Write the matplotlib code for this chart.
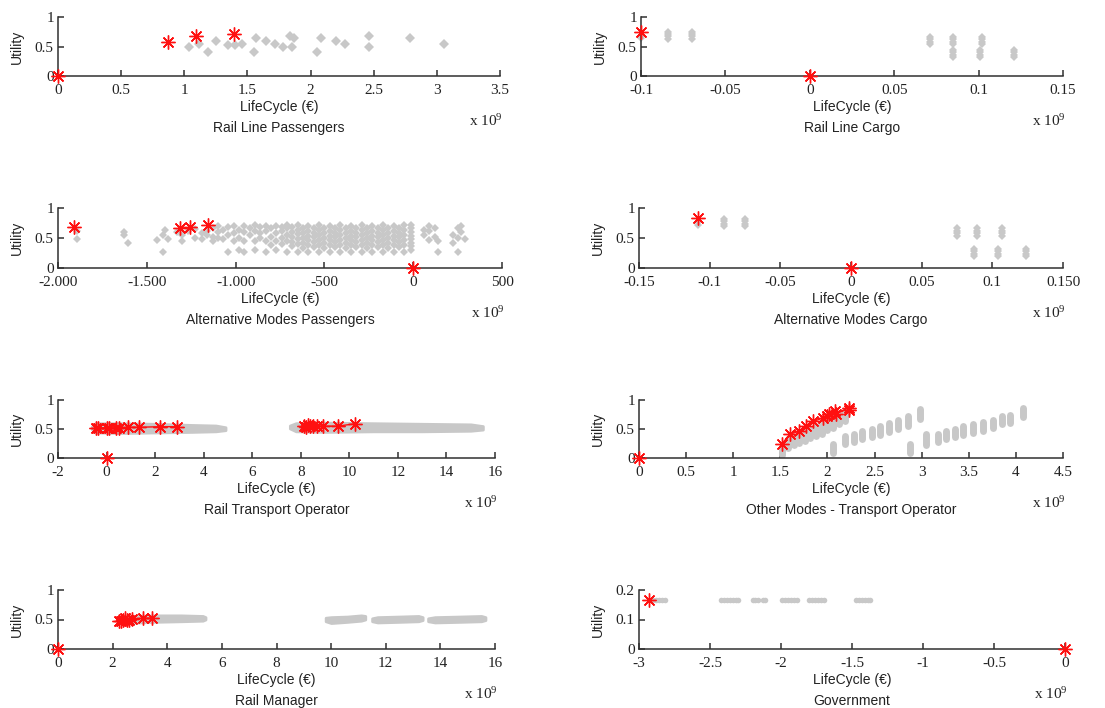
import matplotlib.pyplot as plt

GRAY = '#c8c8c8'
RED = '#ff1010'
AXCOL = '#303030'
SERIF = 'Liberation Serif'
SANS = 'Liberation Sans'

# ---- Rail Line Passengers (x in 1e9 EUR) ----
rlp_gray_x = [1.04, 1.12, 1.19, 1.25, 1.35, 1.40, 1.46, 1.55, 1.57, 1.65, 1.72, 1.78,
              1.84, 1.85, 1.87, 2.05, 2.08, 2.20, 2.27, 2.46, 2.46, 2.79, 3.06]
rlp_gray_y = [0.50, 0.54, 0.41, 0.60, 0.52, 0.52, 0.55, 0.41, 0.64, 0.60, 0.55, 0.50,
              0.68, 0.50, 0.64, 0.41, 0.64, 0.60, 0.55, 0.68, 0.50, 0.64, 0.55]
rlp_front_x = [0, 0.87, 1.09, 1.39]
rlp_front_y = [0, 0.57, 0.67, 0.71]

# ---- Rail Line Cargo: stacked columns x -> utilities ----
rlc_cols = {-0.100: [0.64, 0.68],
            -0.084: [0.63, 0.67, 0.71, 0.75],
            -0.070: [0.63, 0.67, 0.71, 0.75],
            0.071: [0.54, 0.58, 0.62, 0.66],
            0.085: [0.32, 0.36, 0.40, 0.44, 0.54, 0.58, 0.62, 0.66],
            0.101: [0.32, 0.36, 0.40, 0.44],
            0.102: [0.54, 0.58, 0.62, 0.66],
            0.121: [0.32, 0.36, 0.40, 0.44]}
rlc_front_x = [-0.1, 0]
rlc_front_y = [0.75, 0]

# ---- Alternative Modes Passengers ----
amp_cols = {-1895: [0.48, 0.62], -1630: [0.55, 0.60], -1605: [0.41],
            -1440: [0.46], -1410: [0.27, 0.55], -1395: [0.64], -1380: [0.48],
            -1330: [0.60], -1300: [0.45, 0.55], -1270: [0.62], -1230: [0.50, 0.65],
            -1190: [0.48, 0.58], -1160: [0.55, 0.62], -1130: [0.45, 0.52, 0.66],
            -1100: [0.50, 0.60, 0.70], -1070: [0.48, 0.64], -1040: [0.27, 0.55, 0.68],
            -1010: [0.45, 0.58, 0.70], -980: [0.30, 0.50, 0.64], -950: [0.27, 0.45, 0.60, 0.70],
            -920: [0.55, 0.66], -890: [0.30, 0.45, 0.62, 0.72], -860: [0.50, 0.58, 0.68],
            -830: [0.27, 0.45, 0.62, 0.70], -800: [0.38, 0.52, 0.66],
            -770: [0.30, 0.45, 0.58, 0.70], -740: [0.40, 0.50, 0.62, 0.68],
            -710: [0.27, 0.45, 0.55, 0.66, 0.72],
            -680: [0.36, 0.44, 0.52, 0.60, 0.68], -650: [0.27, 0.40, 0.48, 0.56, 0.64, 0.71],
            -620: [0.34, 0.42, 0.50, 0.58, 0.66], -590: [0.27, 0.38, 0.46, 0.54, 0.62, 0.70],
            -560: [0.35, 0.43, 0.51, 0.59, 0.67], -530: [0.27, 0.39, 0.47, 0.55, 0.63, 0.71],
            -500: [0.34, 0.42, 0.50, 0.58, 0.66], -470: [0.27, 0.38, 0.46, 0.54, 0.62, 0.70],
            -440: [0.35, 0.43, 0.51, 0.59, 0.67], -410: [0.27, 0.39, 0.47, 0.55, 0.63, 0.71],
            -380: [0.34, 0.42, 0.50, 0.58, 0.66], -350: [0.27, 0.38, 0.46, 0.54, 0.62, 0.70],
            -320: [0.35, 0.43, 0.51, 0.59, 0.67], -290: [0.27, 0.39, 0.47, 0.55, 0.63, 0.71],
            -260: [0.34, 0.42, 0.50, 0.58, 0.66], -230: [0.27, 0.38, 0.46, 0.54, 0.62, 0.70],
            -200: [0.35, 0.43, 0.51, 0.59, 0.67], -170: [0.27, 0.39, 0.47, 0.55, 0.63, 0.71],
            -140: [0.34, 0.42, 0.50, 0.58, 0.66], -110: [0.27, 0.38, 0.46, 0.54, 0.62, 0.70],
            -80: [0.35, 0.43, 0.51, 0.59, 0.67], -50: [0.27, 0.39, 0.47, 0.55, 0.63, 0.71],
            -15: [0.30, 0.36, 0.42, 0.48, 0.54, 0.60, 0.66, 0.72],
            60: [0.55, 0.64], 90: [0.47, 0.62, 0.70], 120: [0.52, 0.66], 140: [0.27, 0.45],
            225: [0.42, 0.55], 250: [0.27, 0.50, 0.66], 270: [0.60, 0.70], 290: [0.48]}
amp_front_x = [-1912, -1313, -1257, -1157, 0]
amp_front_y = [0.68, 0.67, 0.69, 0.71, 0]

# ---- Alternative Modes Cargo ----
amc_cols = {-0.108: [0.72, 0.76],
            -0.090: [0.70, 0.74, 0.78, 0.82],
            -0.075: [0.70, 0.74, 0.78, 0.82],
            0.075: [0.54, 0.58, 0.62, 0.66],
            0.087: [0.20, 0.24, 0.28, 0.32],
            0.089: [0.54, 0.58, 0.62, 0.66],
            0.104: [0.20, 0.24, 0.28, 0.32],
            0.107: [0.54, 0.58, 0.62, 0.66],
            0.124: [0.20, 0.24, 0.28, 0.32]}
amc_front_x = [-0.108, 0]
amc_front_y = [0.83, 0]

# ---- Rail Transport Operator: band outlines (x, low, high) ----
rto_band1_x = [-0.6, -0.45, 0.5, 2.0, 3.5, 4.5, 4.9]
rto_band1_lo = [0.49, 0.44, 0.43, 0.44, 0.45, 0.46, 0.48]
rto_band1_hi = [0.55, 0.60, 0.60, 0.59, 0.57, 0.56, 0.53]
rto_band2_x = [7.55, 7.8, 9.0, 11.0, 13.0, 15.0, 15.5]
rto_band2_lo = [0.51, 0.46, 0.45, 0.46, 0.46, 0.47, 0.49]
rto_band2_hi = [0.56, 0.60, 0.61, 0.60, 0.59, 0.58, 0.55]
rto_front1_x = [-0.45, -0.35, 0.0, 0.1, 0.4, 0.5, 0.9, 1.35, 2.2, 2.9]
rto_front1_y = [0.52, 0.52, 0.52, 0.52, 0.52, 0.52, 0.53, 0.53, 0.54, 0.54]
rto_front2_x = [8.12, 8.2, 8.3, 8.4, 8.5, 8.65, 8.92, 9.54, 10.22]
rto_front2_y = [0.55, 0.53, 0.57, 0.55, 0.56, 0.55, 0.55, 0.55, 0.59]

# ---- Other Modes - Transport Operator: point clusters (x, low, high) ----
omt_x = [1.52, 1.58, 1.64, 1.70, 1.76, 1.82, 1.88, 1.94, 2.00, 2.06, 2.12, 2.19,
         2.06, 2.88,
         2.19, 2.28, 2.37, 2.47, 2.56, 2.65, 2.75, 2.86, 2.98,
         3.05, 3.17, 3.26, 3.35, 3.44, 3.55, 3.65, 3.76, 3.85, 3.94, 4.08]
omt_lo = [0.05, 0.18, 0.22, 0.26, 0.30, 0.34, 0.38, 0.42, 0.48, 0.52, 0.58, 0.64,
          0.08, 0.08,
          0.24, 0.28, 0.32, 0.36, 0.40, 0.45, 0.50, 0.55, 0.68,
          0.22, 0.28, 0.32, 0.36, 0.40, 0.43, 0.46, 0.52, 0.58, 0.60, 0.70]
omt_hi = [0.20, 0.32, 0.36, 0.40, 0.45, 0.50, 0.55, 0.60, 0.66, 0.70, 0.75, 0.80,
          0.24, 0.24,
          0.38, 0.42, 0.46, 0.50, 0.55, 0.60, 0.65, 0.72, 0.85,
          0.42, 0.42, 0.46, 0.50, 0.55, 0.58, 0.62, 0.66, 0.72, 0.74, 0.86]
omt_front_x = [1.52, 1.60, 1.70, 1.77, 1.85, 1.95, 1.99, 2.02, 2.08, 2.09, 2.23, 2.23]
omt_front_y = [0.25, 0.41, 0.46, 0.56, 0.63, 0.69, 0.73, 0.76, 0.81, 0.76, 0.87, 0.82]

# ---- Rail Manager: band outlines ----
rm_bands = [
    ([2.2, 2.5, 3.5, 4.5, 5.3, 5.4], [0.47, 0.44, 0.46, 0.47, 0.48, 0.50], [0.53, 0.56, 0.57, 0.57, 0.56, 0.54]),
    ([9.8, 10.0, 10.6, 11.1, 11.25], [0.47, 0.44, 0.46, 0.48, 0.50], [0.53, 0.54, 0.55, 0.57, 0.56]),
    ([11.5, 11.7, 12.5, 13.2, 13.35], [0.47, 0.45, 0.46, 0.47, 0.49], [0.52, 0.54, 0.55, 0.56, 0.54]),
    ([13.55, 13.8, 14.7, 15.5, 15.65], [0.47, 0.45, 0.46, 0.47, 0.49], [0.52, 0.54, 0.55, 0.56, 0.54]),
]
rm_front_x = [2.25, 2.32, 2.38, 2.45, 2.52, 2.60, 2.70, 3.10, 3.45]
rm_front_y = [0.48, 0.47, 0.50, 0.52, 0.49, 0.50, 0.51, 0.52, 0.52]

# ---- Government ----
gov_gray_x = [-2.90, -2.88, -2.86, -2.84, -2.82,
              -2.42, -2.40, -2.38, -2.36, -2.34, -2.32, -2.30,
              -2.20, -2.18, -2.16, -2.13, -2.11,
              -1.99, -1.97, -1.95, -1.93, -1.91, -1.89,
              -1.80, -1.78, -1.76, -1.74, -1.72, -1.70,
              -1.47, -1.45, -1.43, -1.41, -1.39, -1.37]
gov_gray_y = [0.165] * len(gov_gray_x)
gov_front_x = [-2.93, 0]
gov_front_y = [0.165, 0]

STAR = (8, 2, 0)


def stars(ax, x, y, line=False):
    ax.plot(x, y, linestyle='-' if line else 'none', color=RED, lw=1.0,
            marker=STAR, markersize=10, markeredgewidth=1.0, markeredgecolor=RED,
            clip_on=False, zorder=5)


def origin(ax):
    stars(ax, [0], [0])


def columns(ax, cols, size=3.6):
    xs, ys = [], []
    for x, yl in cols.items():
        xs += [x] * len(yl)
        ys += yl
    ax.plot(xs, ys, 'D', color=GRAY, markersize=size, markeredgewidth=0, clip_on=False)


def style(ax, xlim, xticks, xlabels, name, ylim=(0, 1), yticks=(0, 0.5, 1), ylabels=('0', '0.5', '1')):
    ax.set_xlim(xlim)
    ax.set_ylim(ylim)
    for s in ['top', 'right']:
        ax.spines[s].set_visible(False)
    for s in ['left', 'bottom']:
        ax.spines[s].set_color(AXCOL)
        ax.spines[s].set_linewidth(1.1)
    ax.set_xticks(xticks)
    ax.set_xticklabels(xlabels)
    ax.set_yticks(yticks)
    ax.set_yticklabels(ylabels)
    ax.tick_params(direction='in', length=4, width=1.1, colors=AXCOL)
    ax.tick_params(axis='x', pad=6)
    ax.tick_params(axis='y', pad=3)
    for lab in ax.get_xticklabels() + ax.get_yticklabels():
        lab.set_fontfamily(SERIF)
        lab.set_fontsize(11)
        lab.set_color('#222222')
    w_px = ax.get_position().width * fig.get_figwidth() * fig.dpi
    ax.set_ylabel('Utility', fontfamily=SANS, fontsize=10, color='#222222')
    ax.yaxis.set_label_coords(-34.0 / w_px, 0.5)
    ax.annotate('LifeCycle (€)', xy=(0.5, 0), xycoords='axes fraction',
                xytext=(0, -31 * 0.72), textcoords='offset points',
                ha='center', va='center', fontfamily=SANS, fontsize=10, color='#222222')
    ax.annotate(name, xy=(0.5, 0), xycoords='axes fraction',
                xytext=(0, -52 * 0.72), textcoords='offset points',
                ha='center', va='center', fontfamily=SANS, fontsize=10, color='#222222')
    ax.annotate(r'x 10$^{9}$', xy=(1, 0), xycoords='axes fraction',
                xytext=(2, -45 * 0.72), textcoords='offset points',
                ha='right', va='center', fontfamily=SERIF, fontsize=11, color='#222222')


plt.rcParams['mathtext.fontset'] = 'custom'
plt.rcParams['mathtext.rm'] = SERIF
plt.rcParams['mathtext.it'] = SERIF

fig = plt.figure(figsize=(11.05, 7.08), dpi=100)
W, H = 1105.0, 708.0


def box(x0, x1, ytop, ybot):
    return [x0 / W, 1 - ybot / H, (x1 - x0) / W, (ybot - ytop) / H]


rows = [(17, 76), (208, 268), (400, 458), (590, 649)]

# Rail Line Passengers
ax = fig.add_axes(box(58, 500, *rows[0]))
ax.plot(rlp_gray_x, rlp_gray_y, 'D', color=GRAY, markersize=5, markeredgewidth=0)
stars(ax, rlp_front_x, rlp_front_y)
style(ax, (0, 3.5), [0, 0.5, 1, 1.5, 2, 2.5, 3, 3.5],
      ['0', '0.5', '1', '1.5', '2', '2.5', '3', '3.5'], 'Rail Line Passengers')

# Rail Line Cargo
ax = fig.add_axes(box(641, 1063, *rows[0]))
columns(ax, rlc_cols)
stars(ax, rlc_front_x, rlc_front_y)
style(ax, (-0.1, 0.15), [-0.1, -0.05, 0, 0.05, 0.1, 0.15],
      ['-0.1', '-0.05', '0', '0.05', '0.1', '0.15'], 'Rail Line Cargo')

# Alternative Modes Passengers
ax = fig.add_axes(box(58, 502, *rows[1]))
columns(ax, amp_cols, size=4.5)
stars(ax, amp_front_x, amp_front_y)
style(ax, (-2000, 500), [-2000, -1500, -1000, -500, 0, 500],
      ['-2.000', '-1.500', '-1.000', '-500', '0', '500'], 'Alternative Modes Passengers')

# Alternative Modes Cargo
ax = fig.add_axes(box(639, 1063, *rows[1]))
columns(ax, amc_cols)
stars(ax, amc_front_x, amc_front_y)
style(ax, (-0.15, 0.15), [-0.15, -0.1, -0.05, 0, 0.05, 0.1, 0.15],
      ['-0.15', '-0.1', '-0.05', '0', '0.05', '0.1', '0.150'], 'Alternative Modes Cargo')

# Rail Transport Operator
ax = fig.add_axes(box(58, 495, *rows[2]))
ax.fill_between(rto_band1_x, rto_band1_lo, rto_band1_hi, color=GRAY, lw=2, edgecolor=GRAY)
ax.fill_between(rto_band2_x, rto_band2_lo, rto_band2_hi, color=GRAY, lw=2, edgecolor=GRAY)
stars(ax, rto_front1_x, rto_front1_y, line=True)
stars(ax, rto_front2_x, rto_front2_y, line=True)
origin(ax)
style(ax, (-2, 16), list(range(-2, 17, 2)), [str(v) for v in range(-2, 17, 2)],
      'Rail Transport Operator')

# Other Modes - Transport Operator
ax = fig.add_axes(box(639, 1063, *rows[2]))
ax.vlines(omt_x, omt_lo, omt_hi, color=GRAY, lw=5, capstyle='round')
stars(ax, omt_front_x, omt_front_y, line=True)
origin(ax)
style(ax, (0, 4.5), [0, 0.5, 1, 1.5, 2, 2.5, 3, 3.5, 4, 4.5],
      ['0', '0.5', '1', '1.5', '2', '2.5', '3', '3.5', '4', '4.5'],
      'Other Modes - Transport Operator')

# Rail Manager
ax = fig.add_axes(box(58, 495, *rows[3]))
for bx, blo, bhi in rm_bands:
    ax.fill_between(bx, blo, bhi, color=GRAY, lw=2, edgecolor=GRAY)
stars(ax, rm_front_x, rm_front_y, line=True)
origin(ax)
style(ax, (0, 16), list(range(0, 17, 2)), [str(v) for v in range(0, 17, 2)], 'Rail Manager')

# Government
ax = fig.add_axes(box(639, 1065, *rows[3]))
ax.plot(gov_gray_x, gov_gray_y, 'o', color=GRAY, markersize=4, markeredgewidth=0)
stars(ax, gov_front_x, gov_front_y)
style(ax, (-3, 0), [-3, -2.5, -2, -1.5, -1, -0.5, 0],
      ['-3', '-2.5', '-2', '-1.5', '-1', '-0.5', '0'], 'Government',
      ylim=(0, 0.2), yticks=(0, 0.1, 0.2), ylabels=('0', '0.1', '0.2'))

fig.savefig('out.png', dpi=100)
